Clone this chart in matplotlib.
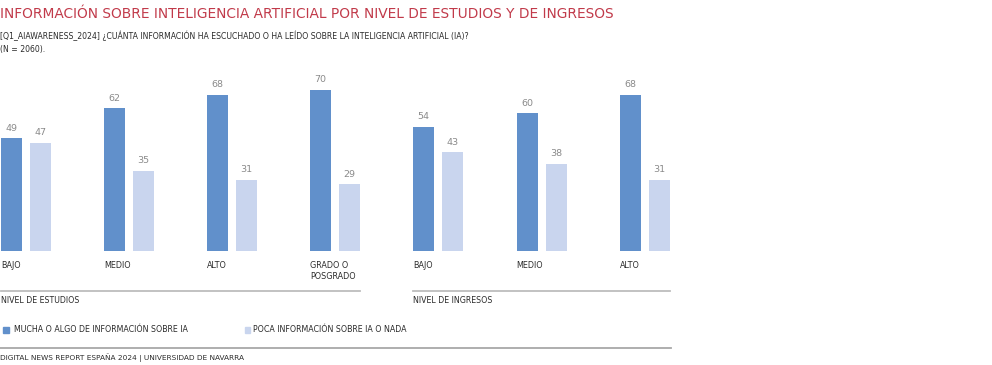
import matplotlib
matplotlib.use("Agg")
import matplotlib.pyplot as plt
import numpy as np

plt.rcParams['font.family'] = ['Liberation Sans Narrow', 'DejaVu Sans']

# datos
estudios = ["BAJO", "MEDIO", "ALTO", "GRADO O\nPOSGRADO"]
estudios_mucha = [49, 62, 68, 70]
estudios_poca = [47, 35, 31, 29]

ingresos = ["BAJO", "MEDIO", "ALTO"]
ingresos_mucha = [54, 60, 68]
ingresos_poca = [43, 38, 31]

serie_mucha = "MUCHA O ALGO DE INFORMACIÓN SOBRE IA"
serie_poca = "POCA INFORMACIÓN SOBRE IA O NADA"

titulo = "INFORMACIÓN SOBRE INTELIGENCIA ARTIFICIAL POR NIVEL DE ESTUDIOS Y DE INGRESOS"
subtitulo = "[Q1_AIAWARENESS_2024] ¿CUÁNTA INFORMACIÓN HA ESCUCHADO O HA LEÍDO SOBRE LA INTELIGENCIA ARTIFICIAL (IA)?\n(N = 2060)."
fuente = "DIGITAL NEWS REPORT ESPAÑA 2024 | UNIVERSIDAD DE NAVARRA"

C_DARK = "#6190cb"
C_LIGHT = "#c9d5ee"
C_TEXT = "#2b2b2b"
C_NUM = "#8a8a8a"
C_LINE = "#bdbdbd"
C_TITLE = "#c13a4a"

W, H = 992, 365
fig = plt.figure(figsize=(W / 100, H / 100), dpi=100)


def px(x, y):
    # pixel (desde arriba-izquierda) -> fraccion de figura
    return x / W, 1 - y / H


def panel(left, width, center0, step, cats, mucha, poca, nombre):
    ax = fig.add_axes([left / W, 114 / H, width / W, 184 / H])
    ax.set_xlim((left - center0) / step, (left + width - center0) / step)
    ax.set_ylim(0, 80)
    ax.axis("off")
    x = np.arange(len(cats))
    off = 14.5 / step
    bw = 21 / step
    b1 = ax.bar(x - off, mucha, bw, color=C_DARK)
    b2 = ax.bar(x + off, poca, bw, color=C_LIGHT)
    for bars in (b1, b2):
        for b in bars:
            ax.annotate(f"{b.get_height():.0f}", (b.get_x() + b.get_width() / 2, b.get_height()),
                        xytext=(0, 7.2), textcoords="offset points", ha="center", va="center",
                        fontsize=6.8, color=C_NUM)
    for i, c in enumerate(cats):
        ax.text(i - off - bw / 2, -4.2, c, ha="left", va="top", fontsize=5.8,
                color=C_TEXT, linespacing=1.3, clip_on=False)
    # linea separadora y nombre del grupo
    x0 = x[0] - off - bw / 2
    x1 = x[-1] + off + bw / 2
    ax.plot([x0, x1], [-17.4, -17.4], color=C_LINE, lw=1.3, clip_on=False)
    ax.text(x0, -21.5, nombre, ha="left", va="center", fontsize=5.7, color=C_TEXT, clip_on=False)
    return ax


panel(0, 370, 26, 103, estudios, estudios_mucha, estudios_poca, "NIVEL DE ESTUDIOS")
panel(400, 280, 438, 103.5, ingresos, ingresos_mucha, ingresos_poca, "NIVEL DE INGRESOS")

# titulos
fig.text(*px(0, 17.5), titulo, fontsize=9.95, color=C_TITLE, ha="left", va="baseline")
fig.text(*px(0, 30.5), subtitulo, fontsize=5.6, color=C_TEXT, ha="left", va="top", linespacing=1.6)

# leyenda
for xs, xt, col, lab in [(3, 14, C_DARK, serie_mucha), (245, 253, C_LIGHT, serie_poca)]:
    fig.patches.append(plt.Rectangle(px(xs, 332.5), 5.5 / W, 5.5 / H, color=col,
                                     transform=fig.transFigure, figure=fig))
    fig.text(*px(xt, 329.5), lab, fontsize=5.7, color=C_TEXT, ha="left", va="center")

fig.add_artist(plt.Line2D([0, 671 / W], [1 - 348 / H] * 2, color="#a8a8a8", lw=1.3))
fig.text(*px(0, 358), fuente, fontsize=5.3, color=C_TEXT, ha="left", va="center")

fig.savefig("out.png", dpi=100)
